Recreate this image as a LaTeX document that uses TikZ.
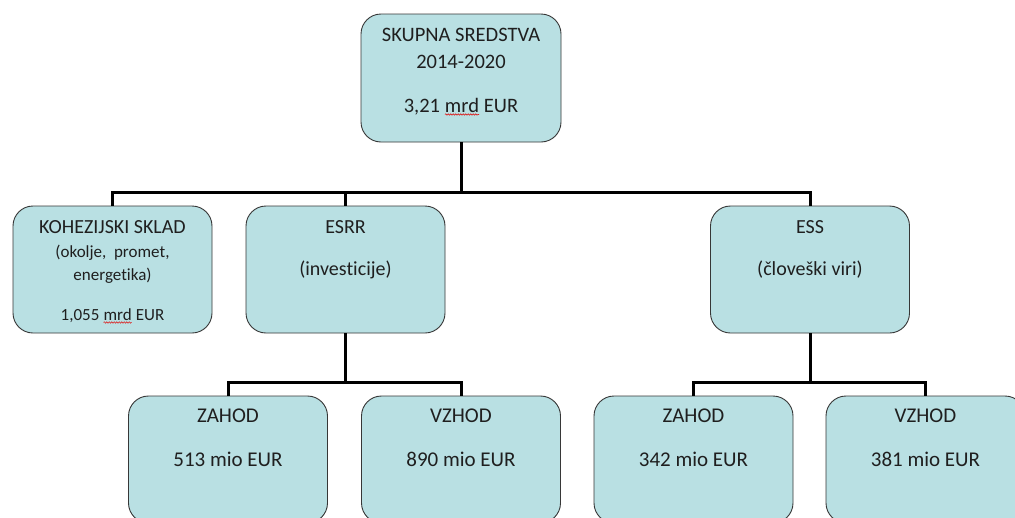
\documentclass[tikz,border=0pt]{standalone}
\usepackage{fontspec}
\setmainfont{Carlito}[Ligatures=NoCommon]
\usetikzlibrary{decorations.pathmorphing}
\definecolor{boxfill}{RGB}{185,224,227}
\definecolor{boxline}{RGB}{55,55,55}
\definecolor{spellred}{RGB}{220,30,30}
\newcommand\spellwave[1]{\tikz[baseline=(sw.base),x=1pt,y=1pt]{\node[inner sep=0pt,outer sep=0pt] (sw) {#1};\draw[spellred,line width=0.6pt,decorate,decoration={snake,amplitude=0.7pt,segment length=2.5pt}] ([yshift=-2.5pt]sw.base west) -- ([yshift=-2.5pt]sw.base east);}}
\begin{document}
\begin{tikzpicture}[x=1pt,y=-1pt,
  box/.style={draw=boxline, line width=0.9pt, fill=boxfill, rounded corners=20pt, minimum width=199pt, minimum height=127pt, inner sep=0pt},
  conn/.style={line width=3pt, black},
  txt/.style={anchor=base, inner sep=0pt, text=black!88}]
\useasboundingbox (0,0) rectangle (1015,517);
\clip (0,0) rectangle (1015,517);
\fill[white] (0,0) rectangle (1015,517);
% boxes
\node[box, minimum width=200pt, minimum height=128pt] (top) at (461,78) {};
\node[box] (koh) at (112.5,269.5) {};
\node[box] (esrr) at (345.5,269.5) {};
\node[box] (ess) at (810,269.5) {};
\node[box] (zl) at (228,459.5) {};
\node[box] (vl) at (461,459.5) {};
\node[box] (zr) at (693.5,459.5) {};
\node[box] (vr) at (925.5,459.5) {};
% connectors
\coordinate (bar) at (461,192);
\coordinate (bl) at (345.5,382);
\coordinate (br) at (810,382);
\draw[conn] (top.south) -- (bar);
\draw[conn] (koh.north) |- (bar) -| (ess.north);
\draw[conn] (esrr.north) -- (esrr.north |- bar);
\draw[conn] (esrr.south) -- (bl);
\draw[conn] (zl.north) |- (bl) -| (vl.north);
\draw[conn] (ess.south) -- (br);
\draw[conn] (zr.north) |- (br) -| (vr.north);
% texts
\node[txt, font=\fontsize{20.5}{24}\selectfont] (t1) at (461,41) {SKUPNA SREDSTVA};
\node[txt, font=\fontsize{20.5}{24}\selectfont] (t2) at (461,68) {2014-2020};
\node[txt, font=\fontsize{20.5}{24}\selectfont] (t3) at (461,112) {3,21 \spellwave{mrd} EUR};
\node[txt, font=\fontsize{20}{24}\selectfont] (k1) at (112.5,233) {KOHEZIJSKI SKLAD};
\node[txt, font=\fontsize{17}{20}\selectfont] (k2) at (112.5,257) {(okolje,\ \ promet,};
\node[txt, font=\fontsize{17}{20}\selectfont] (k3) at (112.5,280) {energetika)};
\node[txt, font=\fontsize{17}{20}\selectfont] (k4) at (112.5,320) {1,055 \spellwave{mrd} EUR};
\node[txt, font=\fontsize{20}{24}\selectfont] (e1) at (345.5,233) {ESRR};
\node[txt, font=\fontsize{20}{24}\selectfont] (e2) at (345.5,275) {(investicije)};
\node[txt, font=\fontsize{20}{24}\selectfont] (s1) at (810,233) {ESS};
\node[txt, font=\fontsize{20}{24}\selectfont] (s2) at (810,275) {(človeški viri)};
\node[txt, font=\fontsize{21}{24}\selectfont] (zl1) at (228,422) {ZAHOD};
\node[txt, font=\fontsize{21}{24}\selectfont] (zl2) at (228,466) {513 mio EUR};
\node[txt, font=\fontsize{21}{24}\selectfont] (vl1) at (461,422) {VZHOD};
\node[txt, font=\fontsize{21}{24}\selectfont] (vl2) at (461,466) {890 mio EUR};
\node[txt, font=\fontsize{21}{24}\selectfont] (zr1) at (693.5,422) {ZAHOD};
\node[txt, font=\fontsize{21}{24}\selectfont] (zr2) at (693.5,466) {342 mio EUR};
\node[txt, font=\fontsize{21}{24}\selectfont] (vr1) at (925.5,422) {VZHOD};
\node[txt, font=\fontsize{21}{24}\selectfont] (vr2) at (925.5,466) {381 mio EUR};
\end{tikzpicture}
\end{document}
